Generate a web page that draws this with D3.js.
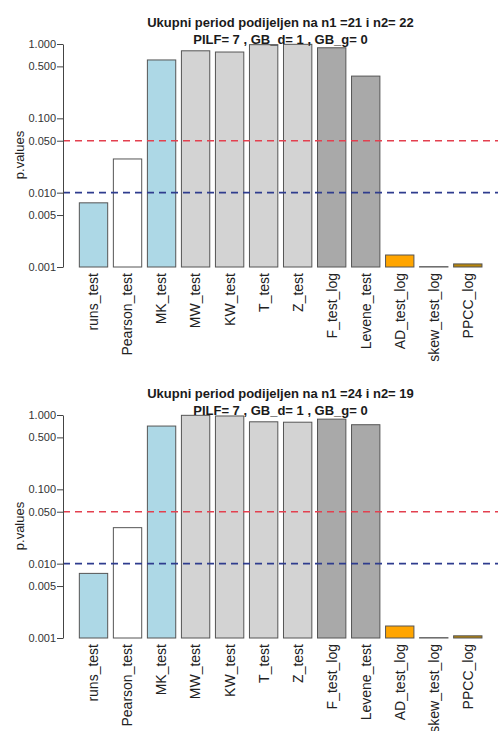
<!DOCTYPE html>
<html>
<head>
<meta charset="utf-8">
<script src="https://cdn.jsdelivr.net/npm/d3@7"></script>
<style>
  html, body { margin: 0; padding: 0; background: #fff; }
  svg { display: block; font-family: "Liberation Sans", Arial, sans-serif; }
</style>
</head>
<body>
<svg id="chart" width="498" height="731"></svg>
<script>
// Test names shown under the bars
const categories = ["runs_test", "Pearson_test", "MK_test", "MW_test", "KW_test", "T_test",
  "Z_test", "F_test_log", "Levene_test", "AD_test_log", "skew_test_log", "PPCC_log"];

// p-values of each test, for the two splits of the series
const pValuesSplit1 = [0.0073, 0.0284, 0.61, 0.81, 0.78, 0.98, 0.99, 0.89, 0.37, 0.00145, 0.00101, 0.0011];
const pValuesSplit2 = [0.0074, 0.0305, 0.71, 0.99, 0.97, 0.81, 0.80, 0.88, 0.74, 0.00145, 0.00101, 0.00107];

// Panel titles
const titlesSplit1 = ["Ukupni period podijeljen na n1 =21 i n2= 22", "PILF= 7 , GB_d= 1 , GB_g= 0"];
const titlesSplit2 = ["Ukupni period podijeljen na n1 =24 i n2= 19", "PILF= 7 , GB_d= 1 , GB_g= 0"];

// Y axis ticks and significance levels
const yTicks = [0.001, 0.005, 0.010, 0.050, 0.100, 0.500, 1.000];
const significanceLevels = [0.05, 0.01];

// Bar fills by test family
const barFills = ["#add8e6", "#ffffff", "#add8e6", "#d3d3d3", "#d3d3d3", "#d3d3d3",
  "#d3d3d3", "#a9a9a9", "#a9a9a9", "#ffa500", "#bebebe", "#b8860b"];
const levelColors = ["#e3404f", "#2f3c8e"];

const svg = d3.select("#chart");

function drawPanel(offsetY, values, titles) {
  const g = svg.append("g").attr("transform", `translate(0,${offsetY})`);
  const plotLeft = 63, plotRight = 498;

  const x = d3.scaleBand()
    .domain(categories)
    .range([76.5, 484.8])
    .paddingInner(1 / 6)
    .paddingOuter(1 / 12);

  const y = d3.scaleLog()
    .domain([0.001, 1])
    .range([267, 44]);

  // bars
  g.selectAll("rect.bar")
    .data(categories)
    .join("rect")
    .attr("class", "bar")
    .attr("x", d => x(d))
    .attr("width", x.bandwidth())
    .attr("y", (d, i) => y(values[i]))
    .attr("height", (d, i) => y(0.001) - y(values[i]))
    .attr("fill", (d, i) => barFills[i])
    .attr("stroke", "#555")
    .attr("stroke-width", 1);

  // significance lines
  g.selectAll("line.level")
    .data(significanceLevels)
    .join("line")
    .attr("class", "level")
    .attr("x1", plotLeft)
    .attr("x2", plotRight)
    .attr("y1", d => y(d))
    .attr("y2", d => y(d))
    .attr("stroke", (d, i) => levelColors[i])
    .attr("stroke-width", 1.6)
    .attr("stroke-dasharray", "7,5");

  // y axis
  const axis = g.append("g")
    .attr("transform", `translate(${plotLeft},0)`)
    .call(d3.axisLeft(y)
      .tickValues(yTicks)
      .tickFormat(d3.format(".3f"))
      .tickSize(6)
      .tickSizeOuter(0)
      .tickPadding(1));
  axis.select(".domain").attr("stroke", "#444");
  axis.selectAll(".tick line").attr("stroke", "#444");
  axis.selectAll(".tick text")
    .attr("fill", "#333")
    .style("font-size", "11px")
    .style("font-family", "'Liberation Sans', Arial, sans-serif");

  // y axis title
  g.append("text")
    .attr("transform", `translate(24,155) rotate(-90)`)
    .attr("text-anchor", "middle")
    .attr("fill", "#222")
    .style("font-size", "13px")
    .text("p.values");

  // category labels
  g.selectAll("text.cat")
    .data(categories)
    .join("text")
    .attr("class", "cat")
    .attr("transform", d => `translate(${x(d) + x.bandwidth() / 2},273) rotate(-90)`)
    .attr("text-anchor", "end")
    .attr("dy", "0.35em")
    .attr("fill", "#222")
    .style("font-size", "14px")
    .text(d => d);

  // title
  g.selectAll("text.title")
    .data(titles)
    .join("text")
    .attr("class", "title")
    .attr("x", (plotLeft + plotRight) / 2)
    .attr("y", (d, i) => 27 + i * 17)
    .attr("text-anchor", "middle")
    .attr("fill", "#1a1a1a")
    .style("font-size", "13px")
    .style("font-weight", "bold")
    .text(d => d);
}

drawPanel(0, pValuesSplit1, titlesSplit1);
drawPanel(371, pValuesSplit2, titlesSplit2);
</script>
</body>
</html>
